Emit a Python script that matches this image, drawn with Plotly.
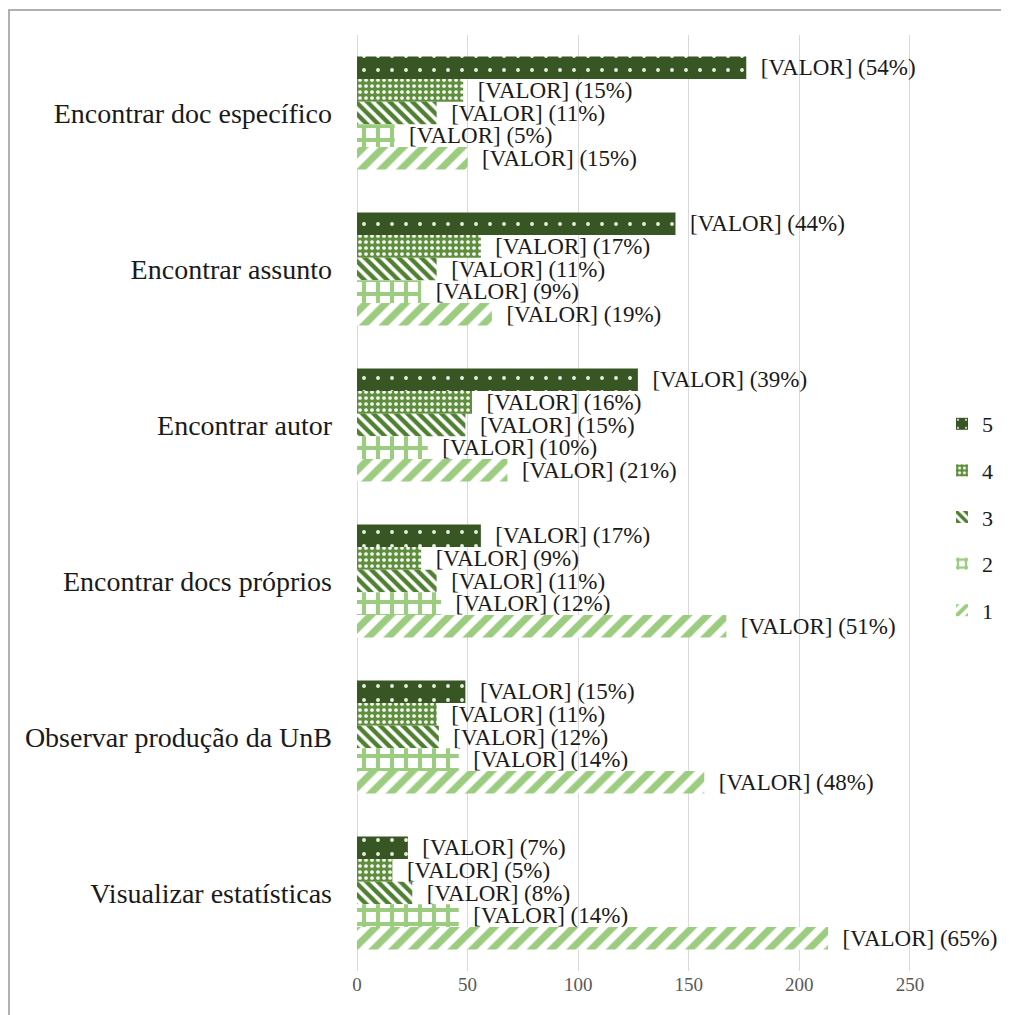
import plotly.graph_objects as go

categories = [
    "Encontrar doc específico",
    "Encontrar assunto",
    "Encontrar autor",
    "Encontrar docs próprios",
    "Observar produção da UnB",
    "Visualizar estatísticas",
]
series_names = ["5", "4", "3", "2", "1"]
values = {
    "5": [176, 144, 127, 56, 49, 23],
    "4": [48, 56, 52, 29, 36, 16],
    "3": [36, 36, 49, 36, 37, 25],
    "2": [17, 29, 32, 38, 46, 46],
    "1": [50, 61, 68, 167, 157, 213],
}
percents = {
    "5": [54, 44, 39, 17, 15, 7],
    "4": [15, 17, 16, 9, 11, 5],
    "3": [11, 11, 15, 11, 12, 8],
    "2": [5, 9, 10, 12, 14, 14],
    "1": [15, 19, 21, 51, 48, 65],
}
x_ticks = [0, 50, 100, 150, 200, 250]

styles = {
    "5": dict(color="#375623", pattern=dict(shape=".", bgcolor="#375623", fgcolor="#e8f0e0", size=14, solidity=0.06, fillmode="replace")),
    "4": dict(color="#5e8f3c", pattern=dict(shape=".", bgcolor="#5e8f3c", fgcolor="#ffffff", size=6, solidity=0.3, fillmode="replace")),
    "3": dict(color="#548235", pattern=dict(shape="\\", bgcolor="#ffffff", fgcolor="#4f7f31", size=8, solidity=0.55, fillmode="replace")),
    "2": dict(color="#a9d18e", pattern=dict(shape="+", bgcolor="#ffffff", fgcolor="#9ccc7f", size=14, solidity=0.5, fillmode="replace")),
    "1": dict(color="#a9d18e", pattern=dict(shape="/", bgcolor="#ffffff", fgcolor="#9ccc7f", size=14, solidity=0.5, fillmode="replace")),
}

FONT = '"Liberation Serif", "Times New Roman", Times, serif'

fig = go.Figure()
for name in series_names:
    st = styles[name]
    fig.add_trace(go.Bar(
        y=categories,
        x=values[name],
        orientation="h",
        name=name,
        legendgroup=name,
        marker=dict(color=st["color"], pattern=st["pattern"], line=dict(width=0)),
        customdata=percents[name],
        texttemplate="\u00a0\u00a0[VALOR] (%{customdata}%)",
        textposition="outside",
        constraintext="none",
        cliponaxis=False,
        textfont=dict(family=FONT, size=23, color="#1a1a1a"),
        hoverinfo="skip",
    ))

# the page adds an 8px offset, so figure coords = image coords - 8
OFF = 8
W, H = 1001, 1007
L, T = 357 - OFF, 35 - OFF
R = W - (921 - OFF)
B = H - (971 - OFF)
pw = W - L - R
ph = H - T - B

def px(xp):
    return (xp - OFF - L) / pw

def py(yp):
    return (H - B - (yp - OFF)) / ph

fig.update_layout(
    width=W, height=H,
    margin=dict(l=L, r=R, t=T, b=B, autoexpand=False),
    paper_bgcolor="white",
    plot_bgcolor="white",
    barmode="group",
    bargap=0.275,
    bargroupgap=0,
    font=dict(family=FONT, size=22, color="#1a1a1a"),
    xaxis=dict(
        range=[0, 255],
        tickvals=x_ticks,
        showgrid=True,
        gridcolor="#d9d9d9",
        gridwidth=1,
        zeroline=True,
        zerolinecolor="#d9d9d9",
        zerolinewidth=1,
        showline=False,
        tickfont=dict(family=FONT, size=19, color="#595959"),
        ticks="",
        ticklen=0,
    ),
    yaxis=dict(
        autorange="reversed",
        showgrid=False,
        zeroline=False,
        showline=False,
        ticks="",
        tickfont=dict(family=FONT, size=28, color="#1a1a1a"),
        ticklabelstandoff=24,
    ),
    legend=dict(
        x=px(942), y=py(517),
        xanchor="left", yanchor="middle",
        traceorder="grouped",
        tracegroupgap=15,
        font=dict(family=FONT, size=22, color="#1a1a1a"),
        bgcolor="rgba(0,0,0,0)",
    ),
    showlegend=True,
    shapes=[dict(
        type="rect", xref="paper", yref="paper",
        x0=px(9), x1=px(1030), y0=py(1040), y1=py(10),
        line=dict(color="#b0b0b0", width=2),
        fillcolor="rgba(0,0,0,0)",
        layer="below",
    )],
)

fig.write_html("out.html")
